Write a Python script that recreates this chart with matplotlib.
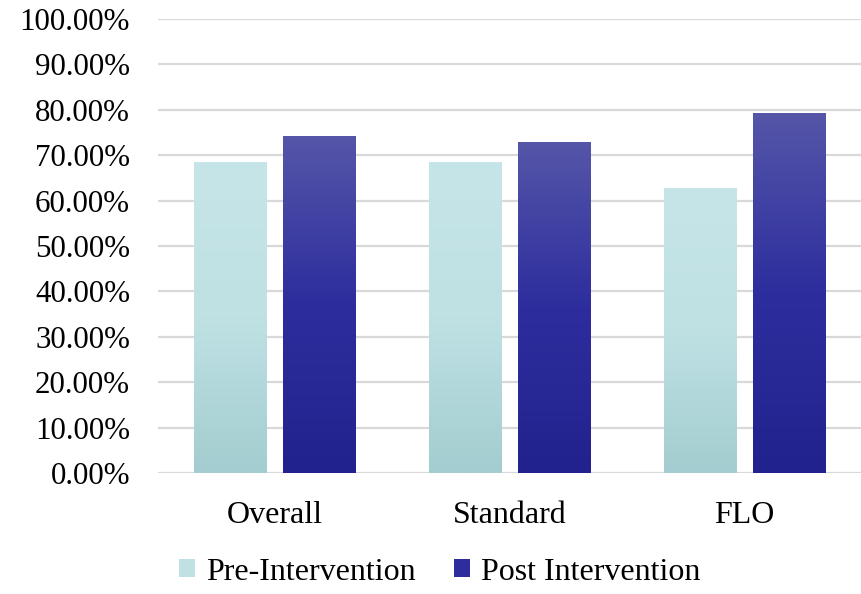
import numpy as np
import matplotlib.pyplot as plt
from matplotlib.colors import LinearSegmentedColormap
from matplotlib.patches import Patch
from matplotlib.ticker import FuncFormatter

plt.rcParams['font.family'] = ['Liberation Serif', 'DejaVu Serif']

categories = ['Overall', 'Standard', 'FLO']
pre_intervention = [68.3, 68.3, 62.6]
post_intervention = [74.2, 72.9, 79.1]

# gradient colours (bottom -> top) for each series
pre_colors = ['#a3cdd0', '#bfe1e4', '#c6e5e8']
post_colors = ['#22228e', '#2d2d9e', '#5556a8']

x = np.arange(len(categories))
width = 0.31
offset = 0.19

fig = plt.figure(figsize=(8.62, 5.94), dpi=100)
ax = fig.add_axes([0.183, 0.2037, 0.817, 0.7643])


def gradient_bars(xpos, values, colors):
    cmap = LinearSegmentedColormap.from_list('grad', colors)
    bars = ax.bar(xpos, values, width, color='none', edgecolor='none', zorder=2)
    grad = np.linspace(0, 1, 256).reshape(-1, 1)
    for rect in bars:
        x0 = rect.get_x()
        x1 = x0 + rect.get_width()
        h = rect.get_height()
        ax.imshow(grad, cmap=cmap, origin='lower', aspect='auto',
                  extent=(x0, x1, 0, h), zorder=2)
    return bars


gradient_bars(x - offset, pre_intervention, pre_colors)
gradient_bars(x + offset, post_intervention, post_colors)

ax.set_xlim(-0.5, 2.5)
ax.set_ylim(0, 100)
ax.set_yticks(np.arange(0, 101, 10))
ax.yaxis.set_major_formatter(FuncFormatter(lambda v, p: '{:.2f}%'.format(v)))
ax.set_xticks(x)
ax.set_xticklabels(categories)
ax.grid(axis='y', color='#d9d9d9', linewidth=1.6, zorder=0)
ax.set_axisbelow(True)
for s in ax.spines.values():
    s.set_visible(False)
ax.tick_params(axis='both', length=0, colors='black')
ax.tick_params(axis='y', pad=20, labelsize=22.3)
ax.tick_params(axis='x', pad=20, labelsize=23)

handles = [Patch(facecolor=pre_colors[1], label='Pre-Intervention'),
           Patch(facecolor=post_colors[1], label='Post Intervention')]
fig.legend(handles=handles, loc='lower center', bbox_to_anchor=(0.51, -0.036),
           ncol=2, frameon=False, fontsize=23, handlelength=0.5,
           handleheight=0.5, handletextpad=0.35, columnspacing=1.2)

fig.savefig('out.png', dpi=100)
